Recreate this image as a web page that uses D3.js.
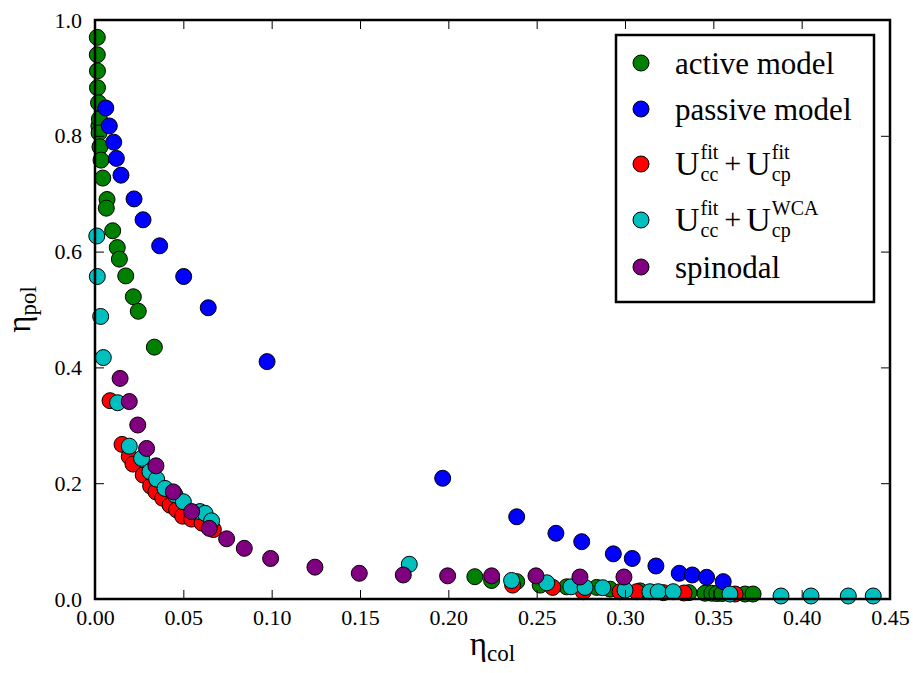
<!DOCTYPE html>
<html>
<head>
<meta charset="utf-8">
<script src="https://cdn.jsdelivr.net/npm/d3@7"></script>
<style>
  body { margin: 0; background: #fff; }
  svg text { fill: #000; }
</style>
</head>
<body>
<div id="chart"></div>
<script>
// active model (green)
var activeX = [0.0013,0.0013,0.0014,0.0014,0.0020,0.0022,0.0025,0.0023,0.0028,0.0034,0.0044,0.0068,0.0064,
               0.0100,0.0126,0.0138,0.0174,0.0217,0.0245,0.0336,
               0.215,0.2245,0.2387,0.252,0.267,0.284,0.2915,0.3085,0.3362,0.3453,0.3491,0.352,0.355,0.368,0.3725];
var activeY = [0.970,0.940,0.912,0.883,0.857,0.817,0.829,0.805,0.781,0.758,0.727,0.690,0.675,
               0.636,0.607,0.587,0.558,0.522,0.497,0.435,
               0.0385,0.032,0.030,0.024,0.021,0.020,0.017,0.014,0.011,0.010,0.010,0.0095,0.0095,0.0086,0.0086];
// passive model (blue)
var passiveX = [0.0061,0.0081,0.0106,0.0121,0.0147,0.0221,0.0272,0.0366,0.0502,0.0641,0.0974,
                0.1968,0.2387,0.2609,0.2755,0.2934,0.3041,0.3175,0.3307,0.3381,0.3462,0.3556];
var passiveY = [0.848,0.817,0.789,0.761,0.732,0.691,0.655,0.610,0.557,0.503,0.410,
                0.2085,0.142,0.1135,0.099,0.078,0.070,0.057,0.0444,0.0415,0.0375,0.030];
// U_cc^fit + U_cp^fit (red)
var fitfitX = [0.0085,0.0153,0.0194,0.0215,0.0273,0.0315,0.0345,0.0383,0.0425,0.0462,0.0496,0.0547,0.0606,0.0670,
               0.2364,0.2591,0.2764,0.2972,0.3066,0.3217,0.3334,0.3623];
var fitfitY = [0.3425,0.267,0.246,0.233,0.214,0.195,0.185,0.174,0.162,0.154,0.143,0.138,0.131,0.120,
               0.024,0.020,0.0126,0.0126,0.0126,0.011,0.0104,0.0086];
// U_cc^fit + U_cp^WCA (cyan)
var fitwcaX = [0.0010,0.0013,0.0032,0.0047,0.0128,0.0194,0.0264,0.0311,0.0349,0.0396,0.0453,0.0500,0.0594,0.0623,0.0660,
               0.1779,0.2358,0.2557,0.2694,0.2774,0.2874,0.3000,0.3141,0.3188,0.3273,0.3594,0.3883,0.4053,0.4264,0.4405];
var fitwcaY = [0.627,0.557,0.488,0.417,0.339,0.264,0.243,0.220,0.207,0.191,0.180,0.168,0.151,0.148,0.135,
               0.060,0.032,0.028,0.021,0.020,0.0195,0.0155,0.0126,0.0126,0.0126,0.0086,0.0052,0.0052,0.0052,0.0052];
// spinodal (purple)
var spinX = [0.0142,0.0194,0.0242,0.0292,0.0345,0.0443,0.0547,0.0647,0.0745,0.0845,0.0994,
             0.1245,0.1496,0.1745,0.1996,0.2245,0.2496,0.2745,0.2994];
var spinY = [0.381,0.341,0.3005,0.260,0.230,0.185,0.151,0.122,0.104,0.0875,0.070,
             0.055,0.0444,0.0415,0.040,0.040,0.040,0.038,0.038];

var xTicks = [0,0.05,0.10,0.15,0.20,0.25,0.30,0.35,0.40,0.45];
var yTicks = [0,0.2,0.4,0.6,0.8,1.0];

var series = [
  {name: "active",  xs: activeX,  ys: activeY,  color: "#008000"},
  {name: "passive", xs: passiveX, ys: passiveY, color: "#0000ff"},
  {name: "fitfit",  xs: fitfitX,  ys: fitfitY,  color: "#ff0000"},
  {name: "fitwca",  xs: fitwcaX,  ys: fitwcaY,  color: "#00bfbf"},
  {name: "spin",    xs: spinX,    ys: spinY,    color: "#800080"}
];

var FONT = "Liberation Serif";
var W = 913, H = 673;
var margin = {top: 20, right: 23, bottom: 74, left: 95};
var width = W - margin.left - margin.right;
var height = H - margin.top - margin.bottom;

var svg = d3.select("#chart").append("svg")
    .attr("width", W).attr("height", H)
    .attr("font-family", FONT);
var g = svg.append("g")
    .attr("transform", "translate(" + margin.left + "," + margin.top + ")");

var x = d3.scaleLinear().domain([0, 0.45]).range([0, width]);
var y = d3.scaleLinear().domain([0, 1]).range([height, 0]);

// points, series drawn in legend order
series.forEach(function(s) {
  g.append("g").selectAll("circle")
    .data(s.xs.map(function(v, i) { return [v, s.ys[i]]; }))
    .enter().append("circle")
      .attr("cx", function(d) { return x(d[0]); })
      .attr("cy", function(d) { return y(d[1]); })
      .attr("r", 8)
      .attr("fill", s.color)
      .attr("stroke", "#000")
      .attr("stroke-width", 1);
});

// axes on all four sides, ticks inward
var fmtX = d3.format(".2f"), fmtY = d3.format(".1f");
var xAxis = g.append("g").attr("transform", "translate(0," + height + ")")
  .call(d3.axisBottom(x).tickValues(xTicks).tickFormat(fmtX).tickSize(-9).tickPadding(10));
var yAxis = g.append("g")
  .call(d3.axisLeft(y).tickValues(yTicks).tickFormat(fmtY).tickSize(-9).tickPadding(13));
var topAxis = g.append("g")
  .call(d3.axisTop(x).tickValues(xTicks).tickFormat("").tickSize(-9));
var rightAxis = g.append("g").attr("transform", "translate(" + width + ",0)")
  .call(d3.axisRight(y).tickValues(yTicks).tickFormat("").tickSize(-9));

[xAxis, yAxis, topAxis, rightAxis].forEach(function(a) {
  a.select(".domain").remove();
  a.selectAll(".tick line").attr("stroke", "#000").attr("stroke-width", 1);
  a.attr("font-family", FONT).attr("font-size", 22);
});

// frame
g.append("rect")
  .attr("x", 0).attr("y", 0).attr("width", width).attr("height", height)
  .attr("fill", "none").attr("stroke", "#000").attr("stroke-width", 2.5);

// axis labels
svg.append("text")
  .attr("x", margin.left + width / 2).attr("y", 655)
  .attr("text-anchor", "middle").attr("font-size", 33)
  .text("η")
  .append("tspan").attr("dy", 6).attr("font-size", 23).text("col");

svg.append("text")
  .attr("transform", "translate(30," + (margin.top + height / 2) + ") rotate(-90)")
  .attr("text-anchor", "middle").attr("font-size", 33)
  .text("η")
  .append("tspan").attr("dy", 6).attr("font-size", 23).text("pol");

// legend
var leg = svg.append("g");
leg.append("rect")
  .attr("x", 616).attr("y", 35).attr("width", 258).attr("height", 267)
  .attr("fill", "#fff").attr("stroke", "#000").attr("stroke-width", 2.5);

var rowY = [63, 109, 164, 220, 267];
series.forEach(function(s, i) {
  leg.append("circle")
    .attr("cx", 641).attr("cy", rowY[i]).attr("r", 8)
    .attr("fill", s.color).attr("stroke", "#000").attr("stroke-width", 1);
});

function plainLabel(txt, cy) {
  leg.append("text").attr("x", 675).attr("y", cy + 11)
    .attr("font-size", 31).text(txt);
}

// U^sup_sub + U^sup_sub built from tspans, stacked scripts
function uLabel(sup2, cy) {
  var base = cy + 11;
  var parts = [
    {t: "U", s: 34, dy: 0, adv: true},
    {t: "fit", s: 20, dy: -16, adv: false},
    {t: "cc", s: 20, dy: 6, adv: true},
    {t: "+", s: 30, dy: -2, adv: true},
    {t: "U", s: 34, dy: 0, adv: true},
    {t: sup2, s: 20, dy: -16, adv: false},
    {t: "cp", s: 20, dy: 6, adv: true}
  ];
  var txt = leg.append("text").attr("y", base);
  var cx = 675, pend = 0;
  parts.forEach(function(p, i) {
    var ts = txt.append("tspan").attr("x", cx).attr("y", base + p.dy)
      .attr("font-size", p.s).text(p.t);
    var w = ts.node().getComputedTextLength();
    if (p.adv) {
      cx += Math.max(w, pend) + (p.t === "+" ? 5 : (i === 2 ? 6 : 1));
      pend = 0;
    } else {
      pend = w;
    }
  });
}

plainLabel("active model", rowY[0]);
plainLabel("passive model", rowY[1]);
uLabel("fit", rowY[2]);
uLabel("WCA", rowY[3]);
plainLabel("spinodal", rowY[4]);
</script>
</body>
</html>
